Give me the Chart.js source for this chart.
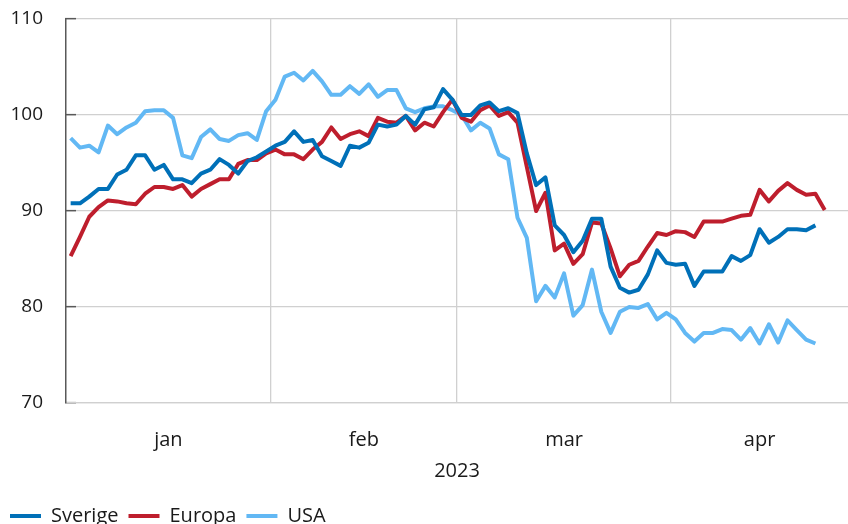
<!DOCTYPE html>
<html>
<head>
<meta charset="utf-8">
<script src="https://cdn.jsdelivr.net/npm/chart.js@4.4.1/dist/chart.umd.min.js"></script>
<style>
  html, body { margin: 0; padding: 0; overflow: hidden; background: #fff; }
  #wrap { width: 848px; height: 536px; }
</style>
</head>
<body>
<div id="wrap"><canvas id="indexChart"></canvas></div>
<script>
// months on the x axis and number of trading days in each
var months = ['jan', 'feb', 'mar', 'apr'];
var tradingDays = [22, 20, 23, 19];
var yearLabel = '2023';

// index values, one per trading day
var sverige = [
    90.8, 90.8, 91.5, 92.3, 92.3, 93.8, 94.3, 95.8, 95.8, 94.3, 94.8, 93.3, 93.3, 92.9, 93.9, 94.3, 95.4, 94.8, 93.9, 95.2, 95.6, 96.2,
    96.8, 97.2, 98.3, 97.2, 97.4, 95.7, 95.2, 94.7, 96.8, 96.6, 97.1, 99.0, 98.8, 99.0, 99.9, 99.0, 100.6, 100.8, 102.7, 101.6,
    100.0, 100.0, 101.0, 101.3, 100.4, 100.7, 100.2, 96.0, 92.7, 93.5, 88.5, 87.5, 85.7, 86.9, 89.2, 89.2, 84.2, 82.0, 81.5, 81.8, 83.4, 85.9, 84.6,
    84.4, 84.5, 82.2, 83.7, 83.7, 83.7, 85.3, 84.8, 85.4, 88.1, 86.7, 87.3, 88.1, 88.1, 88.0, 88.5
];
var europa = [
    85.3, 87.3, 89.4, 90.4, 91.1, 91.0, 90.8, 90.7, 91.8, 92.5, 92.5, 92.3, 92.7, 91.5, 92.3, 92.8, 93.3, 93.3, 94.9, 95.3, 95.3, 96.0,
    96.4, 95.9, 95.9, 95.4, 96.4, 97.2, 98.7, 97.5, 98.0, 98.3, 97.8, 99.7, 99.3, 99.2, 99.9, 98.4, 99.2, 98.8, 100.3, 101.6,
    99.7, 99.3, 100.5, 101.0, 99.9, 100.3, 99.2, 94.6, 90.0, 91.9, 85.9, 86.6, 84.5, 85.5, 88.8, 88.7, 86.1, 83.2, 84.4, 84.8, 86.3, 87.7, 87.5,
    87.9, 87.8, 87.3, 88.9, 88.9, 88.9, 89.2, 89.5, 89.6, 92.2, 91.0, 92.1, 92.9, 92.2, 91.7, 91.8, 90.1
];
var usa = [
    97.6, 96.6, 96.8, 96.1, 98.9, 98.0, 98.7, 99.2, 100.4, 100.5, 100.5, 99.7, 95.8, 95.5, 97.7, 98.5, 97.5, 97.3, 97.9, 98.1, 97.4, 100.4,
    101.6, 104.0, 104.4, 103.6, 104.6, 103.5, 102.1, 102.1, 103.0, 102.2, 103.2, 101.9, 102.6, 102.6, 100.7, 100.3, 100.7, 100.9, 100.9, 100.5,
    100.0, 98.4, 99.2, 98.6, 95.9, 95.4, 89.3, 87.2, 80.6, 82.2, 81.0, 83.5, 79.1, 80.2, 83.9, 79.5, 77.3, 79.5, 80.0, 79.9, 80.3, 78.7, 79.4,
    78.7, 77.3, 76.4, 77.3, 77.3, 77.7, 77.6, 76.6, 77.8, 76.2, 78.2, 76.3, 78.6, 77.6, 76.6, 76.2
];

// one category per trading day, e.g. 'jan 1'
var labels = [];
var monthStart = [];
months.forEach(function (m, k) {
    monthStart.push(labels.length);
    for (var d = 1; d <= tradingDays[k]; d++) {
        labels.push(m + ' ' + d);
    }
});

var textColor = '#1a1a1a';
var gridColor = '#d0d0d0';

var ctx = document.getElementById('indexChart').getContext('2d');

var indexChart = new Chart(ctx, {
    type: 'line',
    data: {
        labels: labels,
        datasets: [{
            label: 'Sverige',
            data: sverige,
            borderColor: '#0070b8',
            backgroundColor: '#0070b8',
            borderWidth: 4
        },
        {
            label: 'Europa',
            data: europa,
            borderColor: '#be1e2d',
            backgroundColor: '#be1e2d',
            borderWidth: 4
        },
        {
            label: 'USA',
            data: usa,
            borderColor: '#62b8f4',
            backgroundColor: '#62b8f4',
            borderWidth: 4
        }]
    },
    options: {
        responsive: true,
        maintainAspectRatio: false,
        animation: false,
        layout: { padding: { top: 19, right: 0, left: 0, bottom: 0 } },
        elements: {
            point: { radius: 0 },
            line: { tension: 0, borderJoinStyle: 'round' }
        },
        scales: {
            x: {
                type: 'category',
                offset: true,
                grid: {
                    offset: true,
                    drawTicks: false,
                    lineWidth: 1.3,
                    // only show lines at month boundaries
                    color: function (c) {
                        return (c.index > 0 && monthStart.indexOf(c.index) !== -1) ? gridColor : 'rgba(0,0,0,0)';
                    }
                },
                border: { color: gridColor, width: 1.3 },
                ticks: { display: false, autoSkip: false }
            },
            months: {
                type: 'linear',
                position: 'bottom',
                min: 0,
                max: labels.length,
                grid: { display: false, drawTicks: false },
                border: { display: false },
                afterBuildTicks: function (scale) {
                    scale.ticks = months.map(function (m, k) {
                        return { value: monthStart[k] + tradingDays[k] / 2 };
                    });
                },
                afterFit: function (scale) { scale.height = 93; },
                ticks: {
                    padding: 25,
                    color: textColor,
                    font: { family: 'Open Sans', size: 20 },
                    callback: function (value, index) { return months[index]; }
                },
                title: {
                    display: true,
                    text: yearLabel,
                    color: textColor,
                    font: { family: 'Open Sans', size: 20 },
                    padding: { top: 13, bottom: 13 }
                }
            },
            y: {
                min: 70,
                max: 110,
                ticks: {
                    stepSize: 10,
                    padding: 33,
                    color: textColor,
                    font: { family: 'Open Sans', size: 19 }
                },
                grid: {
                    color: gridColor,
                    lineWidth: 1.3,
                    tickLength: -10,   // tick marks pointing into the plot
                    tickColor: '#595959',
                    tickWidth: 1.5
                },
                border: { color: '#595959', width: 1.5 },
                afterFit: function (scale) {
                    scale.width = 66;
                    // tick padding should not push the plot top down
                    scale.paddingTop = 12;
                    scale.paddingBottom = 12;
                }
            }
        },
        plugins: {
            legend: {
                position: 'bottom',
                align: 'start',
                labels: {
                    usePointStyle: true,
                    pointStyle: 'line',
                    pointStyleWidth: 31,
                    boxHeight: 4,
                    padding: 10,
                    color: textColor,
                    font: { family: 'Open Sans', size: 20 }
                }
            },
            tooltip: { enabled: false }
        }
    }
});
</script>
</body>
</html>
